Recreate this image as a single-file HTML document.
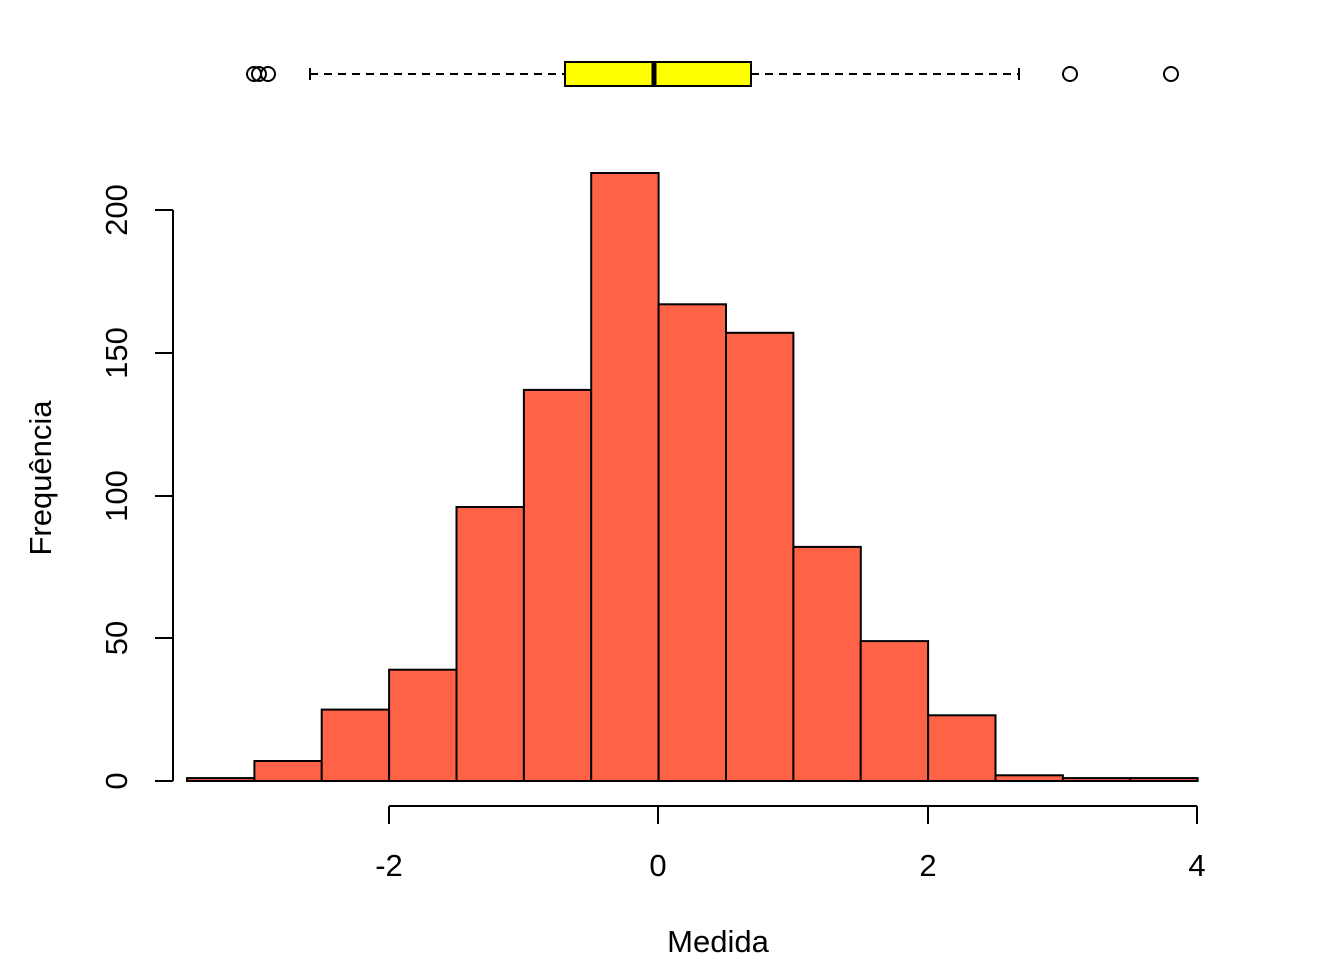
<!DOCTYPE html>
<html><head><meta charset="utf-8"><style>
html,body{margin:0;padding:0;background:#fff}
svg{display:block}
text{font-family:"Liberation Sans",Arial,sans-serif;font-size:31px;fill:#000}
</style></head><body>
<svg width="1344" height="960" viewBox="0 0 1344 960" xmlns="http://www.w3.org/2000/svg">
<g stroke="#000" stroke-width="2" fill="none">
<line x1="310" y1="74" x2="565" y2="74" stroke-dasharray="8,6"/>
<line x1="751" y1="74" x2="1019" y2="74" stroke-dasharray="8,6"/>
<line x1="310" y1="68" x2="310" y2="80"/>
<line x1="1019" y1="68" x2="1019" y2="80"/>
<rect x="565" y="62" width="186" height="24" fill="#ffff00"/>
<line x1="654" y1="62" x2="654" y2="86" stroke-width="5"/>
<circle cx="254" cy="74" r="7"/>
<circle cx="259" cy="74" r="7"/>
<circle cx="268" cy="74" r="7"/>
<circle cx="1070" cy="74" r="7"/>
<circle cx="1171" cy="74" r="7"/>
</g>
<g stroke="#000" stroke-width="2" fill="#ff6347">
<rect x="187.0" y="778.1" width="67.4" height="2.9"/>
<rect x="254.4" y="761.0" width="67.4" height="20.0"/>
<rect x="321.7" y="709.6" width="67.4" height="71.4"/>
<rect x="389.1" y="669.7" width="67.4" height="111.3"/>
<rect x="456.5" y="507.0" width="67.4" height="274.0"/>
<rect x="523.9" y="389.9" width="67.4" height="391.1"/>
<rect x="591.2" y="173.0" width="67.4" height="608.0"/>
<rect x="658.6" y="304.3" width="67.4" height="476.7"/>
<rect x="726.0" y="332.8" width="67.4" height="448.2"/>
<rect x="793.4" y="546.9" width="67.4" height="234.1"/>
<rect x="860.7" y="641.1" width="67.4" height="139.9"/>
<rect x="928.1" y="715.3" width="67.4" height="65.7"/>
<rect x="995.5" y="775.3" width="67.4" height="5.7"/>
<rect x="1062.9" y="778.1" width="67.4" height="2.9"/>
<rect x="1130.2" y="778.1" width="67.4" height="2.9"/>
</g>
<g stroke="#000" stroke-width="2">
<line x1="173" y1="210" x2="173" y2="781"/>
<line x1="155" y1="781" x2="173" y2="781"/>
<line x1="155" y1="638" x2="173" y2="638"/>
<line x1="155" y1="496" x2="173" y2="496"/>
<line x1="155" y1="353" x2="173" y2="353"/>
<line x1="155" y1="210" x2="173" y2="210"/>
<line x1="389" y1="806" x2="1197" y2="806"/>
<line x1="389" y1="806" x2="389" y2="824"/>
<line x1="658" y1="806" x2="658" y2="824"/>
<line x1="928" y1="806" x2="928" y2="824"/>
<line x1="1197" y1="806" x2="1197" y2="824"/>
</g>
<g text-anchor="middle">
<text transform="translate(127,781) rotate(-90)">0</text>
<text transform="translate(127,638) rotate(-90)">50</text>
<text transform="translate(127,496) rotate(-90)">100</text>
<text transform="translate(127,353) rotate(-90)">150</text>
<text transform="translate(127,210) rotate(-90)">200</text>
<text x="389" y="876">-2</text>
<text x="658" y="876">0</text>
<text x="928" y="876">2</text>
<text x="1197" y="876">4</text>
<text x="718" y="952">Medida</text>
<text transform="translate(51,478) rotate(-90)">Frequência</text>
</g>
</svg>
</body></html>
